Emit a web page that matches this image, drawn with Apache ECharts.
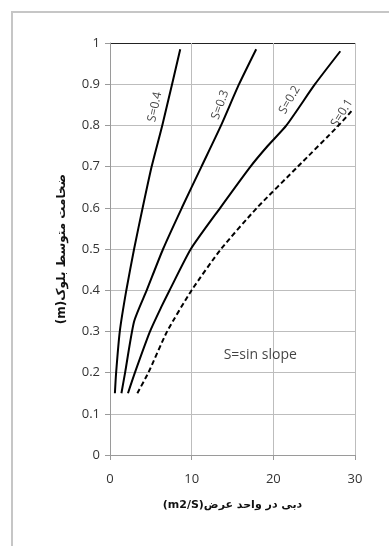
<!DOCTYPE html>
<html>
<head>
<meta charset="utf-8">
<script src="https://cdn.jsdelivr.net/npm/echarts@6/dist/echarts.min.js"></script>
<style>
  html, body { margin: 0; padding: 0; background: #fff; }
  #chart { width: 389px; height: 546px; }
</style>
</head>
<body>
<div id="chart"></div>
<script>
// curve points: [discharge per unit width, block thickness]
const s04 = [[0.6, 0.15], [0.75, 0.2], [1.2, 0.3], [2.0, 0.4], [2.95, 0.5], [4.0, 0.6], [5.1, 0.7], [6.4, 0.8], [7.6, 0.9], [8.6, 0.985]];
const s03 = [[1.4, 0.15], [1.85, 0.2], [2.95, 0.324], [4.5, 0.4], [6.5, 0.5], [8.8, 0.6], [11.2, 0.7], [13.6, 0.8], [15.8, 0.9], [17.9, 0.985]];
const s02 = [[2.2, 0.15], [3.05, 0.2], [4.9, 0.3], [6.3, 0.36], [7.3, 0.4], [9.9, 0.5], [13.5, 0.6], [17.2, 0.7], [19.3, 0.75], [21.6, 0.8], [25.1, 0.9], [28.2, 0.98]];
const s01 = [[3.35, 0.15], [4.7, 0.2], [7.0, 0.3], [10.0, 0.4], [13.6, 0.5], [18.0, 0.6], [23.0, 0.7], [28.0, 0.8], [29.8, 0.84]];

// curve labels: [text, x, y, rotation]
const curveLabels = [
  ['S=0.4', 5.5, 0.845, 78],
  ['S=0.3', 13.5, 0.85, 70],
  ['S=0.2', 22.0, 0.862, 60],
  ['S=0.1', 28.4, 0.83, 58]
];

const yTicks = [0, 0.1, 0.2, 0.3, 0.4, 0.5, 0.6, 0.7, 0.8, 0.9, 1];

const font = '"Open Sans", "Noto Sans", sans-serif';
const rtl = (s) => '\u202B' + s + '\u202C';

const line = (data, dashed) => ({
  type: 'line',
  data,
  smooth: 0.2,
  symbol: 'none',
  lineStyle: { color: '#000', width: 2, type: dashed ? [5, 3] : 'solid' },
  silent: true
});

const chart = echarts.init(document.getElementById('chart'));
chart.setOption({
  animation: false,
  graphic: [{
    type: 'rect',
    shape: { x: 12, y: 12, width: 420, height: 600 },
    style: { fill: 'none', stroke: '#c6c6c6', lineWidth: 2 }
  }],
  grid: { left: 110, right: 34, top: 43, bottom: 91 },
  xAxis: {
    type: 'value',
    min: 0,
    max: 30,
    interval: 10,
    name: rtl('دبی در واحد عرض(m2/S)'),
    nameLocation: 'middle',
    nameGap: 45,
    nameTextStyle: { fontFamily: 'DejaVu Sans', fontSize: 11, fontWeight: 'bold', color: '#111' },
    axisLine: { show: true, lineStyle: { color: '#9a9a9a', width: 1 } },
    axisTick: { show: true, inside: false, length: 5, lineStyle: { color: '#9a9a9a' } },
    axisLabel: { fontFamily: font, fontSize: 13, color: '#333', margin: 18 },
    splitLine: { show: true, lineStyle: { color: '#bdbdbd', width: 1 } }
  },
  yAxis: {
    type: 'value',
    min: 0,
    max: 1,
    interval: 0.1,
    name: rtl('ضخامت متوسط بلوک(m)'),
    nameLocation: 'middle',
    nameGap: 42,
    nameTextStyle: { fontFamily: 'DejaVu Sans', fontSize: 12, fontWeight: 'bold', color: '#111' },
    axisLine: { show: true, lineStyle: { color: '#9a9a9a', width: 1 } },
    axisTick: { show: true, inside: false, length: 5, lineStyle: { color: '#9a9a9a' } },
    axisLabel: {
      fontFamily: font, fontSize: 13, color: '#333', margin: 10,
      formatter: (v) => String(+v.toFixed(1))
    },
    splitLine: {
      show: true,
      lineStyle: {
        color: yTicks.map((v) => (v === 1 ? '#222' : '#bdbdbd')),
        width: 1
      }
    }
  },
  series: [
    line(s04),
    line(s03),
    line(s02),
    line(s01, true),
    {
      type: 'scatter',
      symbolSize: 0,
      silent: true,
      data: curveLabels.map(([text, x, y, rot]) => ({
        value: [x, y],
        label: {
          show: true,
          position: 'inside',
          formatter: text,
          rotate: rot,
          fontFamily: font,
          fontSize: 12,
          color: '#111'
        }
      }))
    },
    {
      type: 'scatter',
      symbolSize: 0,
      silent: true,
      data: [{
        value: [18.4, 0.243],
        label: {
          show: true,
          position: 'inside',
          formatter: 'S=sin slope',
          fontFamily: font,
          fontSize: 14,
          color: '#111'
        }
      }]
    }
  ]
});
</script>
</body>
</html>
